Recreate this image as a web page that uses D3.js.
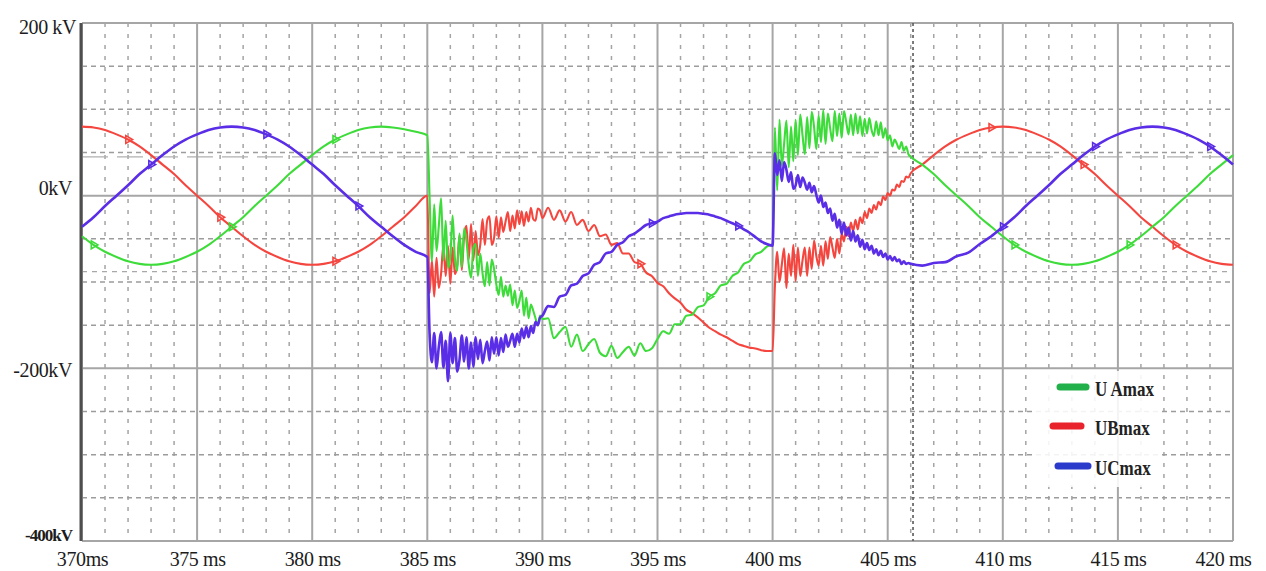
<!DOCTYPE html>
<html>
<head>
<meta charset="utf-8">
<script src="https://cdn.jsdelivr.net/npm/d3@7"></script>
<style>
  html, body { margin: 0; padding: 0; background: #ffffff; }
  svg { display: block; }
  text { font-family: "Liberation Serif", "Times New Roman", serif; }
</style>
</head>
<body>
<svg id="chart" width="1266" height="571"></svg>
<script>
// ---- sampled waveforms (time in ms, voltage in kV) ----
const timeMs = [
  370,370.5,371,371.5,372,372.5,373,373.5,374,374.5,375,375.5,376,376.5,377,377.5,378,378.5,379,379.5,
  380,380.5,381,381.5,382,382.5,383,383.5,384,384.5,385,
  385.1,385.2,385.3,385.4,385.5,385.6,385.7,385.8,385.9,386,386.1,386.2,386.3,386.4,386.5,386.6,386.7,386.8,386.9,
  387,387.1,387.2,387.3,387.4,387.5,387.6,387.7,387.8,387.9,388,388.1,388.2,388.3,388.4,388.5,388.6,388.7,388.8,388.9,
  389,389.1,389.2,389.3,389.4,389.5,389.6,389.7,389.8,389.9,390,
  390.25,390.5,390.75,391,391.25,391.5,391.75,392,392.25,392.5,392.75,393,393.25,393.5,393.75,394,394.25,394.5,394.75,395,
  395.25,395.5,395.75,396,396.25,396.5,396.75,397,397.25,397.5,397.75,398,398.25,398.5,398.75,399,399.25,399.5,399.75,400,
  400.1,400.2,400.3,400.4,400.5,400.6,400.7,400.8,400.9,401,401.1,401.2,401.3,401.4,401.5,401.6,401.7,401.8,401.9,402,
  402.1,402.2,402.3,402.4,402.5,402.6,402.7,402.8,402.9,403,403.1,403.2,403.3,403.4,403.5,403.6,403.7,403.8,403.9,404,
  404.1,404.2,404.3,404.4,404.5,404.6,404.7,404.8,404.9,405,405.1,405.2,405.3,405.4,405.5,405.6,405.7,405.8,405.9,406,
  406.5,407,407.5,408,408.5,409,409.5,410,410.5,411,411.5,412,412.5,413,413.5,414,414.5,415,415.5,416,
  416.5,417,417.5,418,418.5,419,419.5,420
];

// phase A (green)
const uA = [
  -47,-57,-65,-71,-76,-79,-80,-79,-76,-71,-65,-57,-47,-36,-25,-12,0,12,25,36,
  47,57,65,71,76,79,80,79,77,74,70,
  -2,-76,-10,-64,-35,-3,-75,-29,-84,-70,-23,-73,-87,-44,-83,-38,-52,-80,-95,-61,
  -56,-93,-67,-90,-105,-77,-104,-74,-85,-103,-115,-94,-117,-104,-116,-103,-127,-110,-130,-122,
  -110,-139,-118,-142,-126,-133,-142,-150,-139,-143,
  -142,-165,-158,-152,-175,-161,-180,-172,-166,-182,-186,-174,-188,-181,-175,-185,-171,-180,-177,-166,
  -157,-160,-149,-149,-139,-138,-129,-127,-117,-113,-104,-102,-93,-89,-79,-76,-68,-65,-59,-56,
  79,6,88,35,60,87,33,80,40,88,47,94,70,48,91,55,97,80,54,93,
  62,99,60,95,78,63,98,69,95,67,98,85,71,94,70,95,72,92,69,89,
  72,90,76,69,86,70,85,67,78,64,70,57,65,60,54,62,52,57,48,45,
  36,25,12,0,-12,-25,-36,-47,-57,-65,-71,-76,-79,-80,-79,-76,-71,-65,-57,-47,
  -36,-25,-12,0,12,25,36,47
];

// phase B (red)
const uB = [
  80,79,76,71,65,57,47,36,25,12,0,-12,-25,-36,-47,-57,-65,-71,-76,-79,
  -80,-79,-76,-71,-65,-57,-47,-36,-25,-12,0,
  -113,-75,-117,-72,-107,-90,-57,-93,-58,-102,-60,-91,-80,-46,-86,-46,-35,-74,-33,-75,
  -41,-69,-57,-27,-57,-29,-24,-57,-49,-24,-49,-25,-42,-30,-19,-41,-23,-38,-17,-33,
  -18,-35,-19,-30,-14,-27,-29,-15,-17,-26,
  -14,-28,-17,-30,-19,-34,-28,-41,-34,-47,-45,-57,-55,-67,-67,-77,-79,-89,-93,-101,
  -105,-113,-119,-124,-132,-136,-141,-147,-153,-157,-161,-164,-168,-172,-174,-176,-177,-179,-180,-180,
  -105,-65,-100,-80,-61,-107,-67,-93,-57,-99,-60,-93,-75,-60,-93,-60,-85,-52,-70,-81,
  -58,-81,-53,-73,-48,-60,-72,-50,-67,-44,-53,-36,-47,-31,-41,-28,-39,-25,-32,-19,
  -26,-15,-20,-11,-16,-7,-11,-1,-5,3,0,7,6,13,10,17,16,22,21,26,
  36,47,57,65,71,76,79,80,79,76,71,65,57,47,36,25,12,0,-12,-25,
  -36,-47,-57,-65,-71,-76,-79,-80
];

// phase C (blue)
const uC = [
  -36,-25,-12,0,12,25,36,47,57,65,71,76,79,80,79,76,71,65,57,47,
  36,25,12,0,-12,-25,-36,-47,-57,-65,-71,
  -160,-193,-159,-200,-175,-158,-199,-168,-215,-159,-194,-165,-204,-190,-162,-192,-164,-200,-170,-198,
  -164,-189,-167,-194,-180,-169,-191,-164,-183,-164,-185,-165,-181,-161,-175,-168,-160,-175,-160,-170,
  -154,-165,-152,-164,-151,-159,-146,-150,-141,-139,
  -128,-129,-117,-115,-104,-102,-93,-90,-80,-77,-67,-65,-57,-54,-47,-44,-39,-34,-32,-30,
  -26,-24,-22,-21,-20,-20,-20,-21,-22,-24,-26,-29,-32,-35,-39,-43,-48,-53,-56,-58,
  49,24,41,17,39,30,16,27,8,12,24,10,21,15,7,15,4,11,1,-8,
  0,-13,-8,-20,-15,-29,-21,-37,-28,-44,-31,-46,-37,-52,-41,-53,-46,-59,-51,-62,
  -55,-63,-58,-67,-62,-69,-64,-71,-67,-74,-70,-75,-71,-76,-74,-79,-76,-79,-78,-79,
  -81,-78,-77,-70,-66,-56,-47,-36,-25,-12,0,12,25,36,47,57,65,71,76,79,
  80,79,76,71,65,57,47,36
];

const seriesNames = ["U Amax", "UBmax", "UCmax"];

// marker positions along each trace (ms)
const markA = [370.3, 376.3, 381.1, 397.2, 410.5, 415.4];
const markB = [372.2, 376.1, 381.1, 394.2, 409.4, 413.7, 417.6];
const markC = [372.9, 377.9, 381.9, 394.8, 398.6, 410.2, 414.1, 419.1];

// axis ticks
const xTickValues = [370, 375, 380, 385, 390, 395, 400, 405, 410, 415, 420];
const xTickLabels = ["370ms", "375 ms", "380 ms", "385 ms", "390 ms", "395 ms", "400 ms", "405 ms", "410 ms", "415 ms", "420 ms"];
const yTickValues = [200, 0, -200, -400];
const yTickLabels = ["200 kV", "0kV", "-200kV", "-400kV"];

const cursorMs = 406.1;

// ---- drawing ----
const svg = d3.select("#chart");
const x = d3.scaleLinear().domain([370, 420]).range([82, 1233]);
const y = d3.scaleLinear().domain([-400, 200]).range([541, 23]);

const grid = svg.append("g");
const [x0, x1] = x.range();
const yTop = y(200), yBot = y(-400);

// 1 ms dotted verticals
grid.selectAll("line.vminor")
  .data(x.ticks(50).filter(t => Math.round(t) % 5 !== 0))
  .join("line")
  .attr("x1", d => x(d)).attr("x2", d => x(d))
  .attr("y1", yTop).attr("y2", yBot)
  .attr("stroke", "#a4a4a4").attr("stroke-width", 1.5)
  .attr("stroke-dasharray", "4,7");

// 50 kV dashed horizontals
grid.selectAll("line.hminor")
  .data(y.ticks(12).filter(v => Math.round(v) % 200 !== 0))
  .join("line")
  .attr("x1", x0).attr("x2", x1)
  .attr("y1", d => y(d)).attr("y2", d => y(d))
  .attr("stroke", "#9c9c9c").attr("stroke-width", 1.5)
  .attr("stroke-dasharray", "5,4");

// reference levels
grid.append("line")
  .attr("x1", x0).attr("x2", x1).attr("y1", y(45)).attr("y2", y(45))
  .attr("stroke", "#b0b0b0").attr("stroke-width", 1.2).attr("stroke-dasharray", "26,9");
grid.append("line")
  .attr("x1", x0).attr("x2", x1).attr("y1", y(-88)).attr("y2", y(-88))
  .attr("stroke", "#a8a8a8").attr("stroke-width", 1.3).attr("stroke-dasharray", "5,5");

// 5 ms solid verticals
grid.selectAll("line.vmajor")
  .data(x.ticks(10))
  .join("line")
  .attr("x1", d => x(d)).attr("x2", d => x(d))
  .attr("y1", yTop).attr("y2", yBot)
  .attr("stroke", "#a6a6a6").attr("stroke-width", 2);

// 200 kV solid horizontals
grid.selectAll("line.hmajor")
  .data(yTickValues)
  .join("line")
  .attr("x1", x0).attr("x2", x1)
  .attr("y1", d => y(d)).attr("y2", d => y(d))
  .attr("stroke", "#a6a6a6").attr("stroke-width", 2);

// measurement cursor
grid.append("line")
  .attr("x1", x(cursorMs)).attr("x2", x(cursorMs))
  .attr("y1", yTop).attr("y2", yBot)
  .attr("stroke", "#5a5a5a").attr("stroke-width", 1.6)
  .attr("stroke-dasharray", "3,3");

// left axis bar
svg.append("line")
  .attr("x1", x0 - 1).attr("x2", x0 - 1).attr("y1", yTop).attr("y2", yBot)
  .attr("stroke", "#4e4e4e").attr("stroke-width", 3);

// legend background
svg.append("rect")
  .attr("x", 1035).attr("y", 371).attr("width", 125).attr("height", 116)
  .attr("fill", "#ffffff").attr("opacity", 0.88);

// traces
const series = [
  { name: seriesNames[0], values: uA, marks: markA, color: "#3edc3a", width: 2.1 },
  { name: seriesNames[1], values: uB, marks: markB, color: "#f4463f", width: 2.1 },
  { name: seriesNames[2], values: uC, marks: markC, color: "#5a2de6", width: 2.6 }
];
const drawOrder = [1, 0, 2];

const line = d3.line()
  .x((d, i) => x(timeMs[i]))
  .y(d => y(d))
  .curve(d3.curveMonotoneX);

const traces = svg.append("g");
drawOrder.forEach(k => {
  const s = series[k];
  traces.append("path")
    .attr("d", line(s.values))
    .attr("fill", "none")
    .attr("stroke", s.color)
    .attr("stroke-width", s.width)
    .attr("stroke-linejoin", "round");
});

// small trace markers
const tri = d3.symbol().type(d3.symbolTriangle).size(26);
drawOrder.forEach(k => {
  const s = series[k];
  traces.selectAll(null)
    .data(s.marks)
    .join("path")
    .attr("d", tri)
    .attr("transform", t => {
      const i = d3.bisectCenter(timeMs, t);
      return `translate(${x(timeMs[i])},${y(s.values[i])}) rotate(90)`;
    })
    .attr("fill", "none")
    .attr("stroke", s.color)
    .attr("stroke-width", 1.6);
});

// x axis labels
const gx = svg.append("g")
  .attr("transform", `translate(0,${yBot})`)
  .call(d3.axisBottom(x).tickValues(xTickValues)
    .tickFormat((d, i) => xTickLabels[i]).tickSize(0).tickPadding(0));
gx.select(".domain").remove();
gx.selectAll("text")
  .attr("font-family", "'Liberation Serif', 'Times New Roman', serif")
  .attr("font-size", 20)
  .attr("letter-spacing", -0.4)
  .attr("fill", "#1c1c1c")
  .attr("y", 11)
  .each(function (d, i) {
    if (i === xTickValues.length - 1) {
      d3.select(this).attr("text-anchor", "end").attr("x", 18);
    }
  });

// y axis labels
const yNudge = [[0, 10], [-4, -1], [-4, 8], [-4, -1]];
const gy = svg.append("g")
  .attr("transform", `translate(80,0)`)
  .call(d3.axisLeft(y).tickValues(yTickValues)
    .tickFormat((d, i) => yTickLabels[i]).tickSize(0).tickPadding(4));
gy.select(".domain").remove();
gy.selectAll("text")
  .attr("font-family", "'Liberation Serif', 'Times New Roman', serif")
  .attr("font-size", (d, i) => i === 3 ? 17 : 20)
  .attr("font-weight", (d, i) => i === 3 ? "bold" : "normal")
  .attr("letter-spacing", (d, i) => i === 3 ? -1 : -0.4)
  .attr("fill", "#1c1c1c")
  .attr("dx", (d, i) => yNudge[i][0])
  .attr("dy", null)
  .attr("y", (d, i) => yNudge[i][1]);

// legend
const legendSwatch = [
  { x1: 1060, x2: 1086, y: 387, color: "#22b04b" },
  { x1: 1053, x2: 1081, y: 426, color: "#e9232b" },
  { x1: 1058, x2: 1088, y: 466, color: "#2a3bcb" }
];
const legend = svg.append("g");
legend.selectAll("line")
  .data(legendSwatch)
  .join("line")
  .attr("x1", d => d.x1).attr("x2", d => d.x2)
  .attr("y1", d => d.y).attr("y2", d => d.y)
  .attr("stroke", d => d.color).attr("stroke-width", 7)
  .attr("stroke-linecap", "round");
legend.selectAll("text")
  .data(seriesNames)
  .join("text")
  .attr("transform", (d, i) => `translate(1095,${legendSwatch[i].y + 9}) scale(1,1.22)`)
  .attr("font-size", 17)
  .attr("font-weight", "bold")
  .attr("fill", "#222")
  .text(d => d);
</script>
</body>
</html>
